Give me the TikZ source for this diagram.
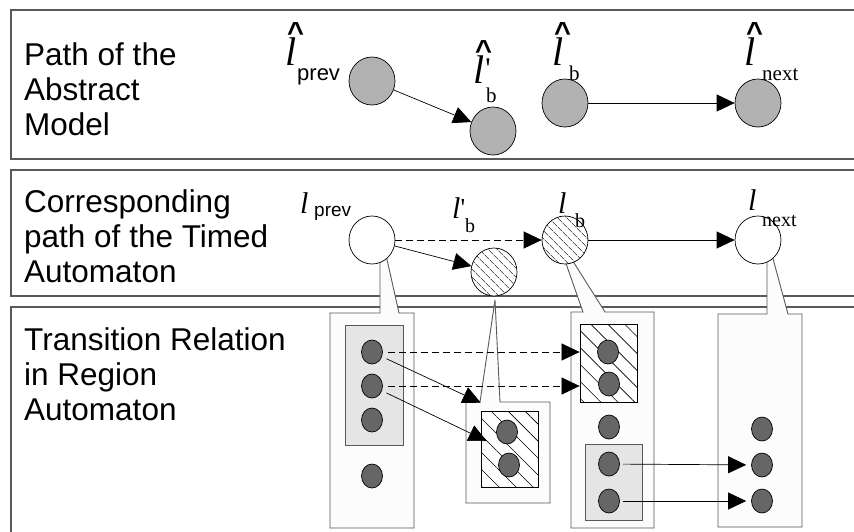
\documentclass[tikz,border=0pt]{standalone}
\usepackage{fontspec}
\setmainfont{Liberation Sans}
\newfontfamily\tms{Liberation Serif}
\usetikzlibrary{shapes.geometric,arrows.meta,patterns.meta}
\definecolor{frm}{gray}{0.35}
\definecolor{absg}{gray}{0.7}
\definecolor{dotg}{gray}{0.4}
\definecolor{boxg}{gray}{0.9}
\definecolor{callg}{gray}{0.99}
% abstract location: big l with a hat, timed location: plain l
\newcommand\hatl{\rlap{\kern2pt\raisebox{23pt}{\fontsize{29}{29}\selectfont\bfseries\textasciicircum}}{\fontsize{40}{40}\selectfont\tms\itshape l}}
\newcommand\pll{{\fontsize{30}{30}\selectfont\tms\itshape l}}

\begin{document}
\begin{tikzpicture}[x=1pt,y=-1pt,
  panel/.style={draw=frm,fill=white,line width=1.1pt},
  ttl/.style={anchor=north west,align=left,inner sep=0pt,
    font=\fontsize{31.5}{35}\selectfont},
  loc/.style={ellipse,draw,minimum width=46pt,minimum height=48pt,
    inner sep=0pt,line width=0.7pt},
  absl/.style={loc,fill=absg},
  tal/.style={loc,fill=white},
  hatl/.style={loc,preaction={fill=white},
    pattern={Lines[angle=-45,distance=6.5pt,line width=0.6pt]}},
  dot/.style={ellipse,draw,fill=dotg,minimum width=21pt,minimum height=24pt,
    inner sep=0pt,line width=0.7pt},
  call/.style={draw=frm,fill=callg,line width=0.9pt},
  grp/.style={draw=frm,fill=boxg,line width=0.8pt,inner sep=0pt},
  hgrp/.style={draw,line width=0.8pt,inner sep=0pt,preaction={fill=white},
    pattern={Lines[angle=-45,distance=12pt,line width=0.6pt]}},
  arr/.style={-{Triangle[length=18pt,width=17pt]},line width=0.7pt},
  dsh/.style={arr,dash pattern=on 7pt off 4pt},
  lbl/.style={anchor=base west,inner sep=0pt},
  sbs/.style={anchor=base west,inner sep=0pt,font=\fontsize{21}{21}\selectfont\tms},
  sbp/.style={anchor=base west,inner sep=0pt,font=\fontsize{22}{22}\selectfont}]
  \useasboundingbox (0,0) rectangle (854,531);
  \clip (0,0) rectangle (854,531);
  % three bands
  \draw[panel] (11,10) rectangle (880,159);
  \draw[panel] (11,170) rectangle (880,296);
  \draw[panel] (11,307) rectangle (880,560);
  \node[ttl] (t1) at (24,42) {Path of the\\Abstract\\Model};
  \node[ttl] (t2) at (24,189) {Corresponding\\path of the Timed\\Automaton};
  \node[ttl] (t3) at (24,327) {Transition Relation\\in Region\\Automaton};
  % callouts under the timed locations
  \draw[call] (330,313) -- (380,313) -- (380,255) -- (386,255) -- (399,313)
    -- (414,313) -- (414,528) -- (330,528) -- cycle;
  \draw[call] (466,402) -- (480,402) -- (495,300) -- (500,402)
    -- (550,402) -- (550,503) -- (466,503) -- cycle;
  \draw[call] (571,312) -- (583,312) -- (563,255) -- (569,255) -- (605,312)
    -- (654,312) -- (654,528) -- (571,528) -- cycle;
  \draw[call] (718,314) -- (767,314) -- (767,255) -- (772,255) -- (788,314)
    -- (802,314) -- (802,527) -- (718,527) -- cycle;
  % abstract model
  \node[absl] (ap) at (372,81) {};
  \node[absl] (abp) at (493,131) {};
  \node[absl] (ab) at (565,103) {};
  \node[absl] (an) at (758,103) {};
  \draw[arr] (ap) -- (abp);
  \draw[arr] (ab) -- (an);
  \node[lbl] (lap) at (285,65) {\hatl};
  \node[sbp] (lap-s) at (297,80) {prev};
  \node[lbl] (labp) at (473,83) {\hatl\raisebox{5pt}{\fontsize{30}{30}\selectfont\tms\kern1pt\textquotesingle}};
  \node[sbs] (labp-s) at (486,102) {b};
  \node[lbl] (lab) at (552,65) {\hatl};
  \node[sbs] (lab-s) at (569,80) {b};
  \node[lbl] (lan) at (744,65) {\hatl};
  \node[sbs] (lan-s) at (762,80) {next};
  % timed automaton
  \node[tal] (tp) at (372,240) {};
  \node[hatl] (tbp) at (494,272) {};
  \node[hatl] (tb) at (565,240) {};
  \node[tal] (tn) at (758,240) {};
  \draw[arr] (tp) -- (tbp);
  \draw[dsh] (tp) -- (tb);
  \draw[arr] (tb) -- (tn);
  \node[lbl] (ltp) at (300,213) {\pll};
  \node[sbp,font=\fontsize{19}{19}\selectfont] (ltp-s) at (314,216) {prev};
  \node[lbl] (ltbp) at (452,218) {\pll\raisebox{2pt}{\fontsize{26}{26}\selectfont\tms\textquotesingle}};
  \node[sbs,font=\fontsize{20}{20}\selectfont\tms] (ltbp-s) at (465,232) {b};
  \node[lbl] (ltb) at (558,213) {\pll};
  \node[sbs,font=\fontsize{20}{20}\selectfont\tms] (ltb-s) at (575,227) {b};
  \node[lbl] (ltn) at (748,210) {\pll};
  \node[sbs,font=\fontsize{20}{20}\selectfont\tms] (ltn-s) at (762,226) {next};
  % region automaton
  \node[grp,minimum width=58pt,minimum height=120pt] (ga) at (374,385) {};
  \node[hgrp,minimum width=57pt,minimum height=76pt] (hb) at (509.5,449) {};
  \node[hgrp,minimum width=57pt,minimum height=78pt] (hc) at (608.5,363) {};
  \node[grp,minimum width=57pt,minimum height=76pt] (gc) at (613.5,482) {};
  \node[dot] (a1) at (372,352) {};
  \node[dot] (a2) at (372,386) {};
  \node[dot] (a3) at (372,420) {};
  \node[dot] (a4) at (372,476) {};
  \node[dot] (b1) at (507,432) {};
  \node[dot] (b2) at (509,465) {};
  \node[dot] (c1) at (608,352) {};
  \node[dot] (c2) at (609,384) {};
  \node[dot] (c3) at (609,427) {};
  \node[dot] (c4) at (609,464) {};
  \node[dot] (c5) at (609,501) {};
  \node[dot] (d1) at (762,429) {};
  \node[dot] (d2) at (762,465) {};
  \node[dot] (d3) at (762,501) {};
  \draw[dsh,shorten <=5pt] (a1) -- (a1 -| hc.west);
  \draw[dsh,shorten <=5pt] (a2) -- (a2 -| hc.west);
  \draw[arr,shorten <=5pt] (a1) -- ([yshift=8pt]hb.north west);
  \draw[arr,shorten <=5pt] (a2) -- ([xshift=6pt,yshift=8pt]hb.west);
  \draw[arr,shorten <=3pt,shorten >=5pt] (c4) -- (d2);
  \draw[arr,shorten <=3pt,shorten >=5pt] (c5) -- (d3);
\end{tikzpicture}
\end{document}
